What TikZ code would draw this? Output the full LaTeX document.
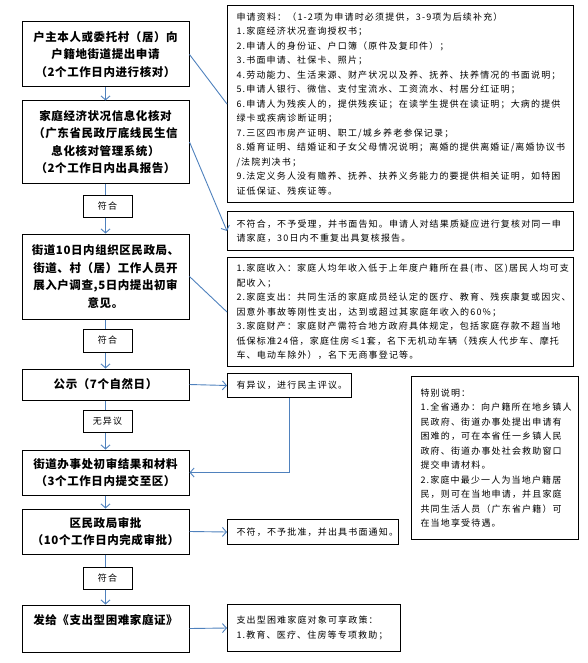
\documentclass[tikz,border=0pt]{standalone}
\usepackage{fontspec}
\usetikzlibrary{arrows.meta}
\newfontfamily\stepfont{Noto Sans CJK SC}[LetterSpace=5]
\newfontfamily\notefont{Noto Sans CJK SC}[LetterSpace=13]
\definecolor{flowblue}{RGB}{79,129,189}
\tikzset{
  stepbox/.style={draw, line width=1pt, minimum width=167pt, align=center, inner sep=0pt,
    font=\stepfont\bfseries\fontsize{11.5}{17.5}\selectfont},
  tagbox/.style={draw, line width=1pt, minimum width=49pt, minimum height=22pt, inner sep=0pt,
    font=\notefont\fontsize{9}{11}\selectfont},
  notebox/.style={draw, line width=1pt, anchor=north west, align=left, inner xsep=9pt, inner ysep=0pt,
    font=\notefont\fontsize{9}{14.5}\selectfont},
  flow/.style={flowblue, line width=0.9pt},
  flowarrow/.style={flow, -{Straight Barb[length=4pt,width=9pt]}}
}
\begin{document}
\begin{tikzpicture}[x=1pt,y=-1pt]
\useasboundingbox (0,0) rectangle (587,663);

\node[stepbox, minimum height=65pt] (apply) at (105.5,54.5) {户主本人或委托村（居）向\\户籍地街道提出申请\\（2个工作日内进行核对）};
\node[stepbox, minimum height=82pt] (check) at (105.5,142) {家庭经济状况信息化核对\\（广东省民政厅底线民生信\\息化核对管理系统）\\（2个工作日内出具报告）};
\node[tagbox] (pass1) at (107.5,206) {符合};
\node[stepbox, minimum height=85pt] (survey) at (105.5,276.5) {街道10日内组织区民政局、\\街道、村（居）工作人员开\\展入户调查,5日内提出初审\\意见。};
\node[tagbox, minimum height=23pt] (pass2) at (107.5,340.5) {符合};
\node[stepbox, minimum height=31pt] (publish) at (105.5,384.5) {公示（7个自然日）};
\node[tagbox] (noobj) at (107.5,421) {无异议};
\node[stepbox, minimum height=45pt] (submit) at (105.5,472.5) {街道办事处初审结果和材料\\（3个工作日内提交至区）};
\node[stepbox, minimum height=45pt] (approve) at (105.5,531.5) {区民政局审批\\（10个工作日内完成审批）};
\node[tagbox] (pass3) at (107.5,578) {符合};
\node[stepbox, minimum height=47pt] (issue) at (105.5,628.5) {发给《支出型困难家庭证》\\\mbox{}};

\node[notebox, text width=328pt, minimum height=197pt] (docs) at (227,5) {申请资料：（1-2项为申请时必须提供，3-9项为后续补充）\\
1.家庭经济状况查询授权书；\\
2.申请人的身份证、户口簿（原件及复印件）；\\
3.书面申请、社保卡、照片；\\
4.劳动能力、生活来源、财产状况以及养、抚养、扶养情况的书面说明；\\
5.申请人银行、微信、支付宝流水、工资流水、村居分红证明；\\
6.申请人为残疾人的，提供残疾证；在读学生提供在读证明；大病的提供\\
绿卡或疾病诊断证明；\\
7.三区四市房产证明、职工/城乡养老参保记录；\\
8.婚育证明、结婚证和子女父母情况说明；离婚的提供离婚证/离婚协议书\\
/法院判决书；\\
9.法定义务人没有赡养、抚养、扶养义务能力的要提供相关证明，如特困\\
证低保证、残疾证等。};
\node[notebox, text width=328pt, minimum height=39pt] (reject) at (227,211) {不符合，不予受理，并书面告知。申请人对结果质疑应进行复核对同一申\\
请家庭，30日内不重复出具复核报告。};
\node[notebox, text width=328pt, minimum height=109pt] (rule) at (227,257) {1.家庭收入：家庭人均年收入低于上年度户籍所在县(市、区)居民人均可支\\
配收入；\\
2.家庭支出：共同生活的家庭成员经认定的医疗、教育、残疾康复或因灾、\\
因意外事故等刚性支出，达到或超过其家庭年收入的60\%；\\
3.家庭财产：家庭财产需符合地方政府具体规定，包括家庭存款不超当地\\
低保标准24倍，家庭住房≤1套，名下无机动车辆（残疾人代步车、摩托\\
车、电动车除外），名下无商事登记等。};
\node[notebox, text width=106pt, minimum height=24pt] (objection) at (227,373) {有异议，进行民主评议。};
\node[notebox, text width=149pt, minimum height=163pt] (special) at (411,376) {特别说明：\\
1.全省通办：向户籍所在地乡镇人\\
民政府、街道办事处提出申请有\\
困难的，可在本省任一乡镇人民\\
政府、街道办事处社会救助窗口\\
提交申请材料。\\
2.家庭中最少一人为当地户籍居\\
民，则可在当地申请，并且家庭\\
共同生活人员（广东省户籍）可\\
在当地享受待遇。};
\node[notebox, text width=153pt, minimum height=25pt] (deny) at (227,519) {不符，不予批准，并出具书面通知。};
\node[notebox, text width=155pt, minimum height=47pt] (policy) at (227,604) {支出型困难家庭对象可享政策：\\
1.教育、医疗、住房等专项救助；};

\draw[flowarrow] (apply) -- (check);
\draw[flow] (check) -- (check |- pass1.north);
\draw[flowarrow] (check |- pass1.south) -- (survey);
\draw[flow] (survey) -- (survey |- pass2.north);
\draw[flowarrow] (survey |- pass2.south) -- (publish);
\draw[flow] (publish) -- (publish |- noobj.north);
\draw[flowarrow] (publish |- noobj.south) -- (submit);
\draw[flowarrow] (submit) -- (approve);
\draw[flow] (approve) -- (approve |- pass3.north);
\draw[flowarrow] (approve |- pass3.south) -- (issue);

\draw[flow] (apply.east) -- (docs.west);
\draw[flowarrow] (check.east) -- (reject.west);
\draw[flow] (survey.east) -- (rule.west);
\draw[flowarrow] (publish.east) -- (objection.west);
\draw[flowarrow] (objection.south) |- (submit.east);
\draw[flowarrow] (approve.east) -- (deny.west);
\draw[flowarrow] (issue.east) -- (policy.west);
\end{tikzpicture}
\end{document}
